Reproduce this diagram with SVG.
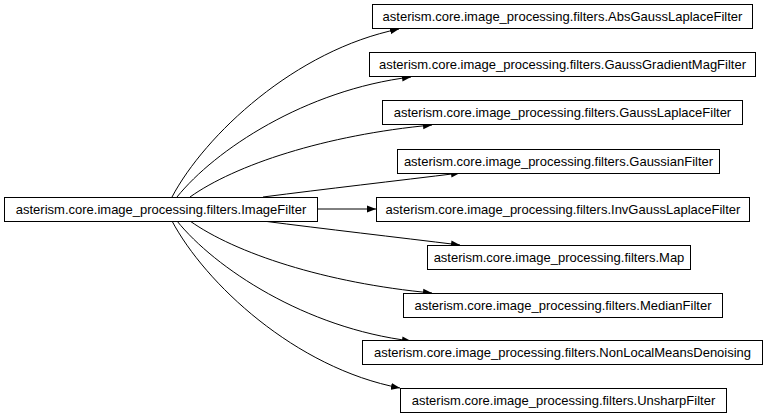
<svg xmlns="http://www.w3.org/2000/svg" width="768" height="418" viewBox="0 0 768 418">
<style>
.n rect{fill:#fff;stroke:#000;stroke-width:1}
.n text{font-family:"Liberation Sans",Arial,sans-serif;font-size:13px;text-anchor:middle;fill:#000}
.e path{fill:none;stroke:#000;stroke-width:1}
</style>
<defs>
<marker id="ah" markerUnits="userSpaceOnUse" markerWidth="10" markerHeight="8" refX="9" refY="4" orient="auto">
<path d="M0,0.5 L9,4 L0,7.5 Z" fill="#000"/>
</marker>
</defs>
<rect width="768" height="418" fill="#fff"/>
<g class="e" id="edges">
<path d="M172,197 C205,135 295,50 399,29" marker-end="url(#ah)"/>
<path d="M177,197 C215,150 305,90 411,77" marker-end="url(#ah)"/>
<path d="M190,197 C235,165 325,135 432,125" marker-end="url(#ah)"/>
<path d="M263,197 C325,189 395,181 460,173" marker-end="url(#ah)"/>
<path d="M318,209 L376,209" marker-end="url(#ah)"/>
<path d="M263,221 C325,229 395,237 460,245" marker-end="url(#ah)"/>
<path d="M190,221 C235,253 325,283 432,293" marker-end="url(#ah)"/>
<path d="M177,221 C215,268 305,328 411,341" marker-end="url(#ah)"/>
<path d="M172,221 C205,283 295,368 400,388" marker-end="url(#ah)"/>
</g>
<g class="n" id="n0"><rect x="4.5" y="197.5" width="313" height="24"/><text x="161" y="214">asterism.core.image_processing.filters.ImageFilter</text></g>
<g class="n" id="n1"><rect x="372.5" y="4.5" width="380" height="24"/><text x="562.5" y="21">asterism.core.image_processing.filters.AbsGaussLaplaceFilter</text></g>
<g class="n" id="n2"><rect x="369.5" y="52.5" width="386" height="24"/><text x="562.5" y="69">asterism.core.image_processing.filters.GaussGradientMagFilter</text></g>
<g class="n" id="n3"><rect x="382.5" y="100.5" width="360" height="24"/><text x="562.5" y="117">asterism.core.image_processing.filters.GaussLaplaceFilter</text></g>
<g class="n" id="n4"><rect x="397.5" y="149.5" width="322" height="24"/><text x="558.5" y="166">asterism.core.image_processing.filters.GaussianFilter</text></g>
<g class="n" id="n5"><rect x="376.5" y="197.5" width="373" height="24"/><text x="563" y="214">asterism.core.image_processing.filters.InvGaussLaplaceFilter</text></g>
<g class="n" id="n6"><rect x="427.5" y="245.5" width="263" height="24"/><text x="559" y="262">asterism.core.image_processing.filters.Map</text></g>
<g class="n" id="n7"><rect x="403.5" y="293.5" width="319" height="24"/><text x="563" y="310">asterism.core.image_processing.filters.MedianFilter</text></g>
<g class="n" id="n8"><rect x="362.5" y="340.5" width="400" height="24"/><text x="562.5" y="357">asterism.core.image_processing.filters.NonLocalMeansDenoising</text></g>
<g class="n" id="n9"><rect x="400.5" y="388.5" width="326" height="24"/><text x="563.5" y="405">asterism.core.image_processing.filters.UnsharpFilter</text></g>
</svg>
